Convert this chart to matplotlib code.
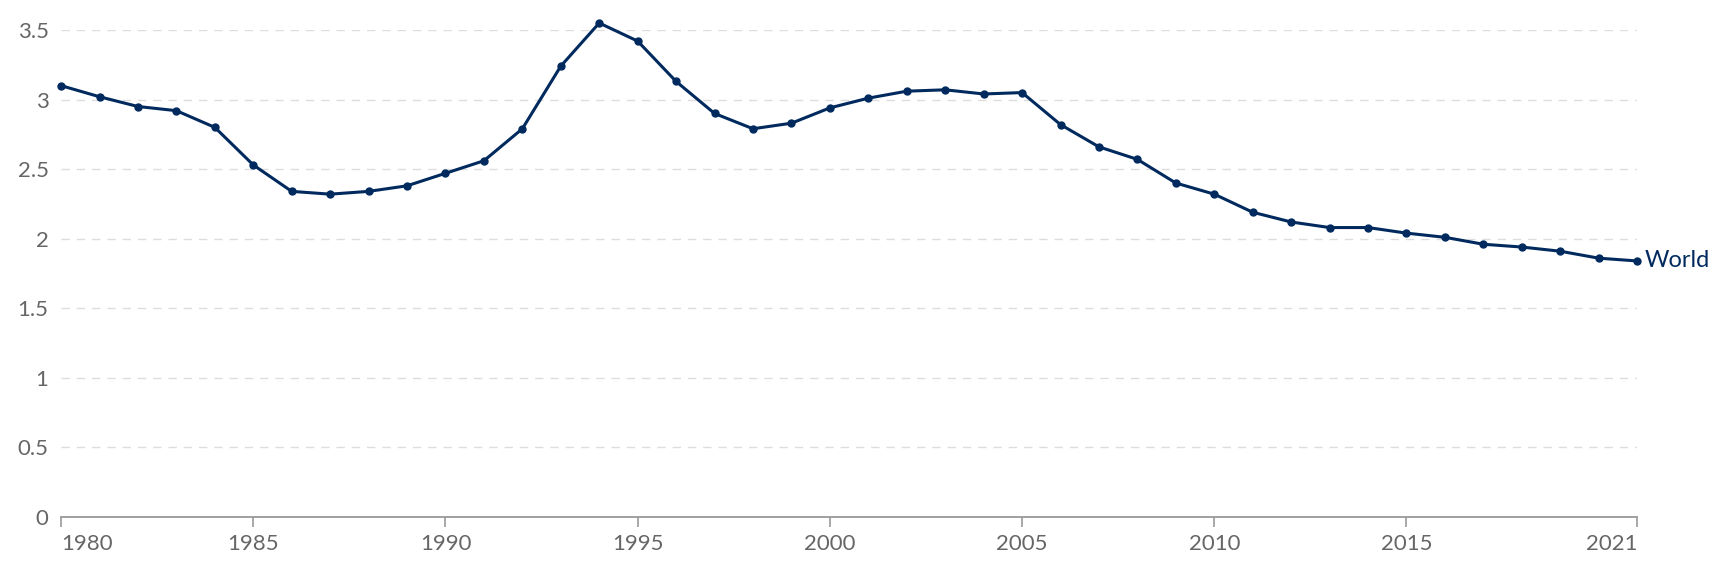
import matplotlib.pyplot as plt

years = list(range(1980, 2022))
world = [
    3.10, 3.02, 2.95, 2.92, 2.80, 2.53, 2.34, 2.32, 2.34, 2.38,
    2.47, 2.56, 2.79, 3.24, 3.55, 3.42, 3.13, 2.90, 2.79, 2.83,
    2.94, 3.01, 3.06, 3.07, 3.04, 3.05, 2.82, 2.66, 2.57, 2.40,
    2.32, 2.19, 2.12, 2.08, 2.08, 2.04, 2.01, 1.96, 1.94, 1.91,
    1.86, 1.84,
]
x_ticks = [1980, 1985, 1990, 1995, 2000, 2005, 2010, 2015, 2021]
y_ticks = [0, 0.5, 1, 1.5, 2, 2.5, 3, 3.5]
y_labels = ["0", "0.5", "1", "1.5", "2", "2.5", "3", "3.5"]

line_color = "#002a5e"
text_color = "#666666"

plt.rcParams["font.family"] = ["Lato", "DejaVu Sans"]

fig = plt.figure(figsize=(17.3, 5.72), dpi=100)
ax = fig.add_axes([0.0353, 0.0962, 0.911, 0.8514])

ax.plot(years, world, color=line_color, linewidth=2.2, marker="o",
        markersize=5, clip_on=False, zorder=3)
ax.text(years[-1] + 0.2, world[-1], "World", color=line_color,
        fontsize=17, va="center", ha="left")

ax.set_xlim(years[0], years[-1])
ax.set_ylim(0, 3.5)

ax.set_yticks(y_ticks)
ax.set_yticklabels(y_labels)
ax.set_xticks(x_ticks)
ax.set_xticklabels([str(t) for t in x_ticks])
for i, label in enumerate(ax.get_xticklabels()):
    if i == 0:
        label.set_horizontalalignment("left")
    elif i == len(x_ticks) - 1:
        label.set_horizontalalignment("right")

ax.tick_params(axis="y", length=0, pad=9, labelsize=16, labelcolor=text_color)
ax.tick_params(axis="x", length=7, width=1.2, color="#999999", pad=5,
               labelsize=16, labelcolor=text_color)

ax.yaxis.grid(True, color="#dddddd", linestyle=(0, (6, 5)), linewidth=1)
ax.set_axisbelow(True)

for side in ["top", "right", "left"]:
    ax.spines[side].set_visible(False)
ax.spines["bottom"].set_color("#999999")
ax.spines["bottom"].set_linewidth(1.3)

fig.savefig("out.png", dpi=100)
